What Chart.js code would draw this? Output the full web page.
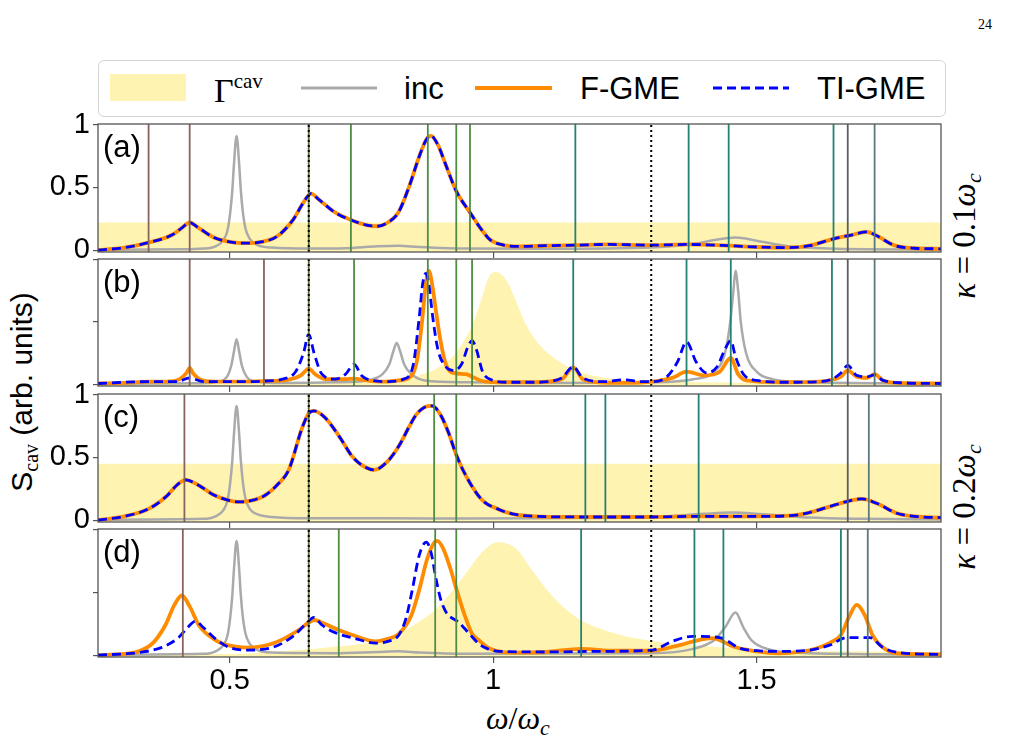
<!DOCTYPE html>
<html>
<head>
<meta charset="utf-8">
<script src="https://cdn.jsdelivr.net/npm/chart.js@4"></script>
<style>
  body { margin: 0; background: #fff; }
  #stage { position: relative; width: 1011px; height: 745px; overflow: hidden; font-family: "Liberation Sans", Arial, sans-serif; }
  .lbl { position: absolute; line-height: 1; white-space: nowrap; transform: translateY(-50%); }
  .math { font-family: "Liberation Serif", "DejaVu Serif", serif; }
  .rot { position: absolute; line-height: 1; white-space: nowrap; transform: translate(-50%, -50%) rotate(-90deg); }
</style>
</head>
<body>
<div id="stage">
  <div class="lbl math" style="left:978px;top:25px;font-size:14px;">24</div>

  <!-- legend -->
  <div style="position:absolute;left:98px;top:60px;width:848px;height:57px;border:1.3px solid #d4d4d4;border-radius:6px;box-sizing:border-box;"></div>
  <div style="position:absolute;left:110px;top:74px;width:76px;height:27px;background:rgba(255,215,0,0.3);"></div>
  <div class="lbl math" style="left:214px;top:89px;font-size:34px;">Γ<sup style="font-size:21px;vertical-align:14px;">cav</sup></div>
  <svg style="position:absolute;left:0;top:0;" width="1011" height="120">
    <line x1="301" y1="88" x2="377" y2="88" stroke="#aaaaaa" stroke-width="3"/>
    <line x1="475" y1="88" x2="552" y2="88" stroke="#ff8c00" stroke-width="4"/>
    <line x1="713" y1="88" x2="789" y2="88" stroke="#0000ff" stroke-width="3" stroke-dasharray="9,5"/>
  </svg>
  <div class="lbl" style="left:404px;top:88px;font-size:31px;">inc</div>
  <div class="lbl" style="left:580px;top:88px;font-size:31px;">F-GME</div>
  <div class="lbl" style="left:817px;top:88px;font-size:31px;">TI-GME</div>

  <!-- axis titles -->
  <div class="rot" style="left:24px;top:392px;font-size:30px;">S<sub class="math" style="font-size:20px;vertical-align:-6px;">cav</sub> (arb. units)</div>
  <div class="rot math" style="left:966px;top:236px;font-size:33px;"><i>κ</i> = 0.1<i>ω</i><sub style="font-size:22px;vertical-align:-6px;"><i>c</i></sub></div>
  <div class="rot math" style="left:966px;top:507px;font-size:33px;"><i>κ</i> = 0.2<i>ω</i><sub style="font-size:22px;vertical-align:-6px;"><i>c</i></sub></div>
  <div class="lbl math" style="left:486px;top:720px;font-size:32px;"><i>ω</i>/<i>ω</i><sub style="font-size:22px;vertical-align:-6px;"><i>c</i></sub></div>
</div>

<script>
// axes
const X_MIN = 0.25, X_MAX = 1.85;
const Y_MIN = -0.015, Y_MAX = 1.005;
const xTicks = [0.5, 1, 1.5];
const yTicks = [0, 0.5, 1];
const yTickLabels = ["0", "0.5", "1"];
const panelNames = ["(a)", "(b)", "(c)", "(d)"];

// flat cavity band height in (a) and (c)
const aCavLevel = 0.22;
const cCavLevel = 0.45;

// ---- panel (a), kappa = 0.1, normalised
const aIncX = [0.25,0.40,0.45,0.473,0.488,0.496,0.501,0.505,0.508,0.513,0.518,0.521,0.525,0.530,0.538,0.553,0.58,0.65,0.72,0.78,0.82,0.86,0.95,1.10,1.30,1.38,1.42,1.46,1.50,1.56,1.65,1.85];
const aIncY = [0.003,0.006,0.012,0.03,0.08,0.16,0.30,0.48,0.68,0.91,0.68,0.48,0.30,0.17,0.09,0.04,0.02,0.012,0.015,0.03,0.035,0.025,0.012,0.01,0.02,0.05,0.08,0.10,0.075,0.03,0.01,0.004];
const aFgmeX = [0.25,0.30,0.346,0.39,0.41,0.424,0.44,0.47,0.50,0.53,0.56,0.59,0.62,0.64,0.654,0.67,0.70,0.73,0.76,0.78,0.80,0.82,0.84,0.86,0.873,0.882,0.895,0.91,0.93,0.956,0.975,0.995,1.02,1.05,1.10,1.16,1.22,1.30,1.37,1.45,1.50,1.56,1.60,1.646,1.68,1.709,1.73,1.76,1.80,1.85];
const aFgmeY = [0.0,0.02,0.06,0.12,0.18,0.22,0.18,0.10,0.065,0.055,0.065,0.11,0.24,0.38,0.45,0.40,0.30,0.24,0.20,0.19,0.22,0.30,0.50,0.75,0.88,0.91,0.84,0.68,0.47,0.30,0.18,0.08,0.04,0.03,0.035,0.04,0.045,0.04,0.045,0.035,0.025,0.02,0.035,0.09,0.12,0.145,0.11,0.04,0.015,0.01];
// TI-GME lies on top of F-GME here
const aTiX = aFgmeX;
const aTiY = aFgmeY;

// ---- panel (b), kappa = 0.1
const bIncX = [0.25,0.45,0.48,0.495,0.503,0.508,0.513,0.518,0.523,0.532,0.55,0.60,0.70,0.76,0.79,0.803,0.811,0.817,0.823,0.831,0.845,0.87,0.95,1.10,1.30,1.38,1.42,1.44,1.45,1.456,1.46,1.465,1.47,1.48,1.50,1.53,1.60,1.85];
const bIncY = [0.003,0.008,0.02,0.06,0.15,0.26,0.36,0.26,0.15,0.06,0.02,0.01,0.015,0.03,0.08,0.16,0.27,0.33,0.27,0.16,0.08,0.03,0.015,0.01,0.015,0.04,0.10,0.25,0.50,0.75,0.91,0.75,0.50,0.25,0.10,0.04,0.015,0.005];
const bFgmeX = [0.25,0.30,0.346,0.38,0.405,0.418,0.424,0.43,0.445,0.47,0.52,0.568,0.61,0.635,0.65,0.662,0.682,0.72,0.736,0.76,0.79,0.82,0.84,0.855,0.865,0.872,0.878,0.885,0.891,0.90,0.911,0.925,0.948,0.96,0.979,1.01,1.08,1.13,1.152,1.17,1.20,1.25,1.302,1.34,1.367,1.40,1.43,1.451,1.465,1.48,1.55,1.62,1.643,1.66,1.673,1.69,1.71,1.724,1.74,1.77,1.85];
const bFgmeY = [0.005,0.01,0.02,0.02,0.04,0.09,0.13,0.09,0.035,0.02,0.02,0.025,0.035,0.07,0.125,0.08,0.04,0.04,0.045,0.03,0.02,0.03,0.05,0.18,0.50,0.80,0.91,0.78,0.60,0.35,0.15,0.09,0.08,0.06,0.025,0.015,0.015,0.04,0.135,0.04,0.015,0.01,0.02,0.05,0.10,0.07,0.10,0.21,0.08,0.03,0.015,0.02,0.035,0.06,0.11,0.06,0.05,0.08,0.03,0.01,0.005];
const bTiX = [0.25,0.346,0.40,0.424,0.45,0.52,0.568,0.60,0.625,0.64,0.65,0.66,0.675,0.70,0.72,0.736,0.75,0.77,0.80,0.83,0.848,0.86,0.866,0.872,0.878,0.885,0.895,0.91,0.925,0.94,0.952,0.96,0.968,0.98,1.00,1.03,1.08,1.13,1.152,1.17,1.21,1.25,1.28,1.302,1.33,1.35,1.367,1.385,1.405,1.425,1.44,1.451,1.46,1.475,1.50,1.56,1.62,1.643,1.66,1.673,1.69,1.71,1.724,1.74,1.78,1.85];
const bTiY = [0.005,0.02,0.02,0.05,0.02,0.02,0.025,0.04,0.10,0.25,0.40,0.25,0.08,0.04,0.08,0.16,0.07,0.03,0.02,0.04,0.15,0.55,0.80,0.89,0.80,0.55,0.28,0.14,0.11,0.16,0.30,0.35,0.28,0.10,0.03,0.015,0.015,0.05,0.14,0.05,0.02,0.035,0.02,0.02,0.06,0.18,0.34,0.18,0.09,0.14,0.28,0.35,0.22,0.08,0.03,0.015,0.02,0.04,0.09,0.15,0.07,0.06,0.075,0.03,0.01,0.005];
const bCavX = [0.25,0.70,0.80,0.859,0.897,0.929,0.961,0.979,0.992,1.005,1.024,1.043,1.062,1.087,1.119,1.157,1.20,1.26,1.35,1.50,1.85];
const bCavY = [0.0,0.01,0.03,0.07,0.135,0.25,0.48,0.70,0.86,0.90,0.84,0.67,0.48,0.32,0.20,0.11,0.06,0.035,0.02,0.01,0.005];

// ---- panel (c), kappa = 0.2
const cIncX = [0.25,0.45,0.473,0.488,0.496,0.501,0.505,0.508,0.513,0.518,0.521,0.525,0.530,0.538,0.553,0.58,0.65,0.80,0.95,1.10,1.30,1.40,1.45,1.52,1.60,1.70,1.85];
const cIncY = [0.003,0.01,0.03,0.08,0.16,0.30,0.48,0.68,0.91,0.68,0.48,0.30,0.17,0.09,0.045,0.025,0.015,0.015,0.012,0.015,0.025,0.05,0.06,0.045,0.02,0.01,0.005];
const cFgmeX = [0.25,0.30,0.346,0.38,0.40,0.416,0.44,0.47,0.50,0.517,0.54,0.568,0.59,0.612,0.637,0.65,0.660,0.68,0.701,0.715,0.732,0.75,0.774,0.80,0.821,0.84,0.854,0.870,0.884,0.90,0.915,0.930,0.95,0.979,1.011,1.036,1.08,1.175,1.30,1.39,1.50,1.563,1.60,1.64,1.673,1.700,1.73,1.766,1.80,1.85];
const cFgmeY = [0.0,0.03,0.09,0.19,0.28,0.32,0.28,0.20,0.155,0.145,0.155,0.20,0.28,0.40,0.73,0.85,0.87,0.82,0.71,0.62,0.51,0.44,0.40,0.47,0.59,0.74,0.84,0.90,0.91,0.84,0.70,0.52,0.34,0.16,0.085,0.05,0.03,0.025,0.025,0.03,0.03,0.035,0.06,0.11,0.15,0.17,0.13,0.055,0.03,0.02];
const cTiX = cFgmeX;
const cTiY = cFgmeY;

// ---- panel (d), kappa = 0.2
const dIncX = [0.25,0.45,0.473,0.488,0.496,0.501,0.505,0.508,0.513,0.518,0.521,0.525,0.530,0.538,0.553,0.58,0.70,0.78,0.82,0.86,0.95,1.30,1.38,1.42,1.44,1.46,1.475,1.49,1.52,1.60,1.85];
const dIncY = [0.003,0.01,0.03,0.08,0.16,0.30,0.48,0.68,0.91,0.68,0.48,0.30,0.17,0.09,0.04,0.02,0.015,0.025,0.03,0.02,0.01,0.015,0.05,0.12,0.22,0.34,0.22,0.12,0.05,0.015,0.005];
const dFgmeX = [0.25,0.30,0.327,0.355,0.378,0.395,0.409,0.425,0.441,0.473,0.50,0.530,0.56,0.587,0.631,0.650,0.660,0.68,0.707,0.74,0.777,0.80,0.821,0.845,0.859,0.875,0.887,0.894,0.905,0.918,0.930,0.945,0.960,0.973,0.99,1.011,1.036,1.10,1.167,1.23,1.30,1.354,1.39,1.416,1.435,1.454,1.50,1.544,1.58,1.606,1.64,1.66,1.675,1.690,1.705,1.72,1.74,1.766,1.85];
const dFgmeY = [0.0,0.01,0.03,0.10,0.24,0.40,0.475,0.38,0.24,0.12,0.075,0.06,0.07,0.10,0.20,0.26,0.28,0.25,0.20,0.15,0.11,0.13,0.17,0.32,0.51,0.77,0.89,0.91,0.85,0.70,0.53,0.33,0.17,0.12,0.06,0.03,0.02,0.025,0.05,0.035,0.035,0.08,0.12,0.135,0.11,0.07,0.03,0.015,0.025,0.045,0.10,0.16,0.30,0.40,0.32,0.16,0.06,0.015,0.005];
const dTiX = [0.25,0.30,0.327,0.37,0.403,0.42,0.435,0.45,0.473,0.50,0.530,0.58,0.62,0.645,0.660,0.675,0.694,0.74,0.777,0.80,0.821,0.835,0.846,0.860,0.873,0.882,0.891,0.90,0.911,0.935,0.955,0.973,0.99,1.011,1.10,1.20,1.302,1.340,1.378,1.430,1.468,1.50,1.544,1.60,1.639,1.671,1.715,1.74,1.77,1.85];
const dTiY = [0.0,0.01,0.02,0.06,0.14,0.22,0.27,0.22,0.13,0.06,0.04,0.06,0.15,0.25,0.30,0.24,0.19,0.13,0.095,0.11,0.16,0.30,0.51,0.80,0.90,0.82,0.62,0.45,0.34,0.26,0.17,0.09,0.05,0.03,0.025,0.03,0.04,0.11,0.15,0.14,0.055,0.035,0.03,0.04,0.08,0.14,0.14,0.06,0.02,0.005];
const dCavX = [0.25,0.40,0.517,0.568,0.631,0.694,0.758,0.821,0.853,0.884,0.916,0.948,0.979,1.008,1.043,1.075,1.106,1.138,1.170,1.233,1.297,1.392,1.544,1.67,1.85];
const dCavY = [0.0,0.005,0.01,0.02,0.04,0.065,0.095,0.17,0.25,0.34,0.48,0.65,0.82,0.90,0.85,0.67,0.50,0.365,0.27,0.17,0.115,0.075,0.035,0.03,0.02];

// mode frequencies (vertical lines)
const aModes = [0.346,0.424,0.730,0.876,0.930,0.956,1.156,1.371,1.447,1.646,1.724];
const bModes = [0.424,0.565,0.736,0.876,0.930,0.960,1.152,1.367,1.451,1.643,1.724];
const cModes = [0.414,0.888,0.930,1.175,1.213,1.390,1.713];
const dModes = [0.411,0.707,0.890,0.930,1.167,1.382,1.437,1.660,1.711];
const sharedModes = [0.65, 1.673];
const dottedMarks = [0.65, 1.3];

// ---------------------------------------------------------------
const LEFT = 98, RIGHT = 941;
const PANELS = [
  { top: 124, bottom: 252 },
  { top: 259, bottom: 386 },
  { top: 394, bottom: 522 },
  { top: 529, bottom: 657 },
];
const SANS = '"Liberation Sans", Arial, sans-serif';
const CAV = "rgba(255, 215, 0, 0.3)";
const AXIS = "#555555";

function pts(xs, ys) {
  return xs.map((x, i) => ({ x: x, y: ys[i] }));
}

function modeColor(x) {
  if (x === 0.65) return "rgb(85, 105, 55)";
  if (x === 1.673) return "rgb(85, 95, 100)";
  if (x < 0.6) return "rgb(135, 100, 92)";
  if (x < 1.0) return "rgb(80, 140, 65)";
  if (x < 1.69) return "rgb(35, 130, 115)";
  return "rgb(90, 120, 125)";
}

function vline(x, color, dash, width, order) {
  return {
    data: [{ x: x, y: Y_MIN }, { x: x, y: Y_MAX }],
    borderColor: color, borderWidth: width, borderDash: dash,
    pointRadius: 0, fill: false, order: order,
  };
}

function curve(xs, ys, color, width, dash, order) {
  return {
    data: pts(xs, ys),
    borderColor: color, borderWidth: width, borderDash: dash,
    pointRadius: 0, fill: false, order: order,
    cubicInterpolationMode: "monotone",
  };
}

function cavFill(xs, ys) {
  return {
    data: pts(xs, ys),
    borderColor: "rgba(0,0,0,0)", borderWidth: 1,
    backgroundColor: CAV, fill: "start",
    pointRadius: 0, order: 50,
    cubicInterpolationMode: "monotone",
  };
}

const frame = {
  id: "frame",
  afterDatasetsDraw(chart) {
    const { ctx, chartArea: a } = chart;
    ctx.save();
    ctx.strokeStyle = AXIS;
    ctx.lineWidth = 1.3;
    ctx.strokeRect(a.left, a.top, a.right - a.left, a.bottom - a.top);
    ctx.restore();
  },
};

function makePanel(i, cav, inc, fgme, ti, modes) {
  const p = PANELS[i];
  const last = i === PANELS.length - 1;
  const labelled = i % 2 === 0;
  const padTop = 20;
  const axisH = last ? 48 : 10;
  const h = (p.bottom - p.top) + padTop + axisH;

  const stage = document.getElementById("stage");
  const cv = document.createElement("canvas");
  cv.width = 1011;
  cv.height = h;
  cv.style.cssText = "position:absolute;left:0;top:" + (p.top - padTop) + "px;";
  stage.appendChild(cv);

  const datasets = [cav, inc, fgme, ti];
  modes.concat(sharedModes).forEach(m => datasets.push(vline(m, modeColor(m), [], 1.8, 10)));
  dottedMarks.forEach(m => datasets.push(vline(m, "#000000", [2, 3], 2, 5)));

  new Chart(cv.getContext("2d"), {
    type: "line",
    data: { datasets },
    options: {
      responsive: false,
      animation: false,
      devicePixelRatio: 1,
      events: [],
      layout: { padding: { top: padTop, right: 1011 - RIGHT, left: 0, bottom: 0 } },
      plugins: { legend: { display: false }, tooltip: { enabled: false } },
      scales: {
        x: {
          type: "linear", min: X_MIN, max: X_MAX,
          afterBuildTicks: s => { s.ticks = xTicks.map(v => ({ value: v })); },
          afterFit: s => { s.height = axisH; s.paddingLeft = 0; s.paddingRight = 0; },
          grid: { drawOnChartArea: false, drawTicks: true, tickLength: 6, color: AXIS, lineWidth: 1.2 },
          border: { display: false },
          ticks: {
            display: last, padding: 1, color: "#000", maxRotation: 0,
            font: { size: 29, family: SANS },
            callback: v => String(v),
          },
        },
        y: {
          type: "linear", min: Y_MIN, max: Y_MAX,
          afterBuildTicks: s => { s.ticks = yTicks.map(v => ({ value: v })); },
          afterFit: s => { s.width = LEFT; s.paddingTop = 0; s.paddingBottom = 0; },
          grid: { drawOnChartArea: false, drawTicks: true, tickLength: 5, color: AXIS, lineWidth: 1.2 },
          border: { display: false },
          ticks: {
            display: labelled, padding: 3, color: "#000",
            font: { size: 29, family: SANS },
            callback: v => yTickLabels[yTicks.indexOf(v)],
          },
        },
      },
    },
    plugins: [frame],
  });

  const lab = document.createElement("div");
  lab.className = "lbl";
  lab.style.cssText = "left:103px;top:" + (p.top + 22) + "px;font-size:31px;";
  lab.textContent = panelNames[i];
  stage.appendChild(lab);
}

const GRAY = "#aaaaaa", ORANGE = "#ff8c00", BLUE = "#0000ff";
const DASH = [9, 5];

makePanel(0,
  cavFill([X_MIN, X_MAX], [aCavLevel, aCavLevel]),
  curve(aIncX, aIncY, GRAY, 2.5, [], 40),
  curve(aFgmeX, aFgmeY, ORANGE, 3.8, [], 30),
  curve(aTiX, aTiY, BLUE, 2.8, DASH, 20),
  aModes);

makePanel(1,
  cavFill(bCavX, bCavY),
  curve(bIncX, bIncY, GRAY, 2.5, [], 40),
  curve(bFgmeX, bFgmeY, ORANGE, 3.8, [], 30),
  curve(bTiX, bTiY, BLUE, 2.8, DASH, 20),
  bModes);

makePanel(2,
  cavFill([X_MIN, X_MAX], [cCavLevel, cCavLevel]),
  curve(cIncX, cIncY, GRAY, 2.5, [], 40),
  curve(cFgmeX, cFgmeY, ORANGE, 3.8, [], 30),
  curve(cTiX, cTiY, BLUE, 2.8, DASH, 20),
  cModes);

makePanel(3,
  cavFill(dCavX, dCavY),
  curve(dIncX, dIncY, GRAY, 2.5, [], 40),
  curve(dFgmeX, dFgmeY, ORANGE, 3.8, [], 30),
  curve(dTiX, dTiY, BLUE, 2.8, DASH, 20),
  dModes);
</script>
</body>
</html>
